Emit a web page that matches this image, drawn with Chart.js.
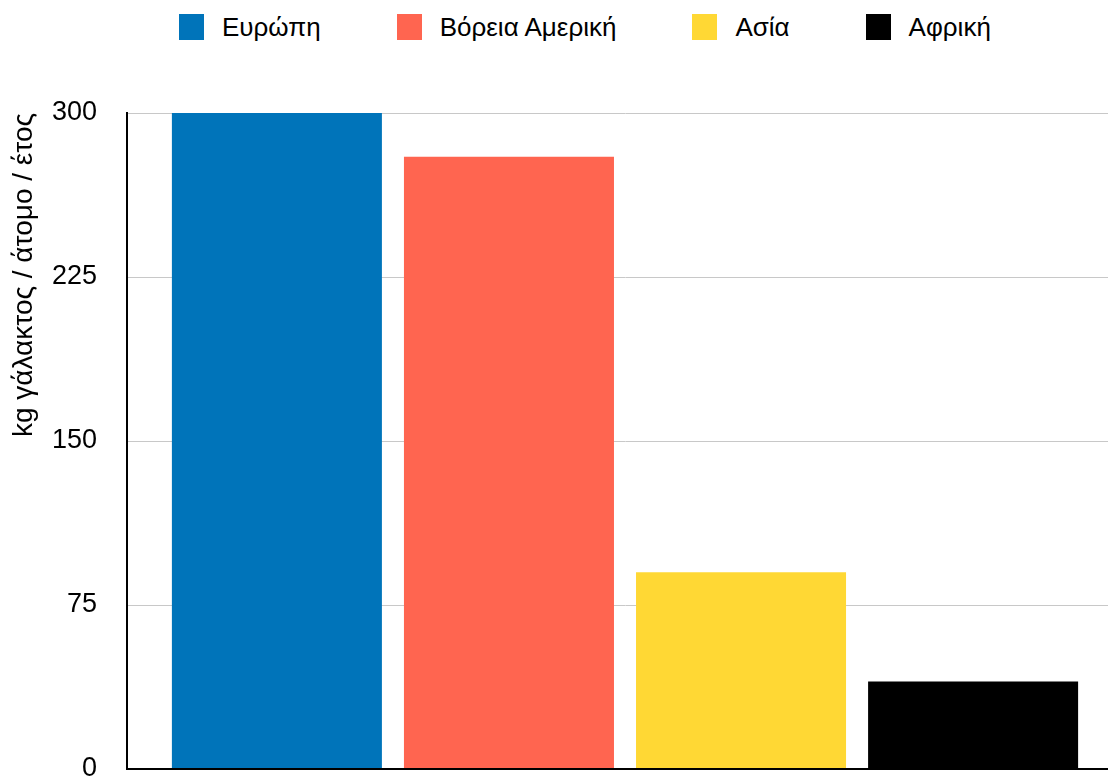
<!DOCTYPE html>
<html>
<head>
<meta charset="utf-8">
<script src="https://cdn.jsdelivr.net/npm/chart.js@4"></script>
<style>
    html, body { margin: 0; padding: 0; background: #fff; overflow: hidden; }
    body { width: 1108px; height: 781px; position: relative; font-family: 'Liberation Sans', Arial, sans-serif; }
    #legend { position: absolute; top: 14px; left: 179px; display: flex; align-items: center; }
    .legend-item { display: flex; align-items: center; margin-right: 76px; font-size: 26px; line-height: 26px; color: #000; }
    .legend-item:last-child { margin-right: 0; }
    .legend-box { width: 25px; height: 26px; margin-right: 18px; }
    /* canvas a bit wider than the window so the group sits where the original has it */
    #wrap { position: absolute; top: 0; left: 0; width: 1123px; height: 781px; }
</style>
</head>
<body>
<div id="legend"></div>
<div id="wrap"><canvas id="chart"></canvas></div>
<script>
const regions = ['Ευρώπη', 'Βόρεια Αμερική', 'Ασία', 'Αφρική'];
const milkKg = [300, 280, 90, 40];
const regionColors = ['#0074ba', '#ff6550', '#ffd834', '#000000'];
const yTicks = [0, 75, 150, 225, 300];
const yTitle = 'kg γάλακτος / άτομο / έτος';

// html legend, built from the same arrays
const legend = document.getElementById('legend');
regions.forEach((name, i) => {
    const item = document.createElement('div');
    item.className = 'legend-item';
    const box = document.createElement('span');
    box.className = 'legend-box';
    box.style.background = regionColors[i];
    const label = document.createElement('span');
    label.textContent = name;
    item.appendChild(box);
    item.appendChild(label);
    legend.appendChild(item);
});

const font = "'Liberation Sans', Arial, sans-serif";

new Chart(document.getElementById('chart'), {
    type: 'bar',
    data: {
        labels: [''],
        datasets: regions.map((name, i) => ({
            label: name,
            data: [milkKg[i]],
            backgroundColor: regionColors[i],
            borderWidth: 0,
            barPercentage: 0.905,
            categoryPercentage: 0.932,
        })),
    },
    options: {
        responsive: true,
        maintainAspectRatio: false,
        animation: false,
        layout: { autoPadding: false, padding: { top: 113, bottom: 12, left: 0, right: 0 } },
        plugins: { legend: { display: false }, tooltip: { enabled: false } },
        scales: {
            x: { display: false },
            y: {
                min: 0,
                max: 300,
                afterBuildTicks: (scale) => { scale.ticks = yTicks.map((v) => ({ value: v })); },
                afterFit: (scale) => {
                    // fixed axis width; tick padding would otherwise push the plot up
                    scale.width = 127;
                    scale.paddingTop = 0;
                    scale.paddingBottom = 0;
                },
                ticks: { color: '#000', padding: 30, font: { family: font, size: 27 } },
                grid: {
                    color: (ctx) => (ctx.tick && ctx.tick.value === 0 ? '#000' : '#c8c8c8'),
                    lineWidth: (ctx) => (ctx.tick && ctx.tick.value === 0 ? 2 : 1),
                    drawTicks: false,
                },
                border: { color: '#000', width: 2 },
                title: {
                    display: true,
                    text: yTitle,
                    align: 'end',
                    color: '#000',
                    font: { family: font, size: 28 },
                    padding: { top: 7, bottom: 0 },
                },
            },
        },
    },
});
</script>
</body>
</html>
